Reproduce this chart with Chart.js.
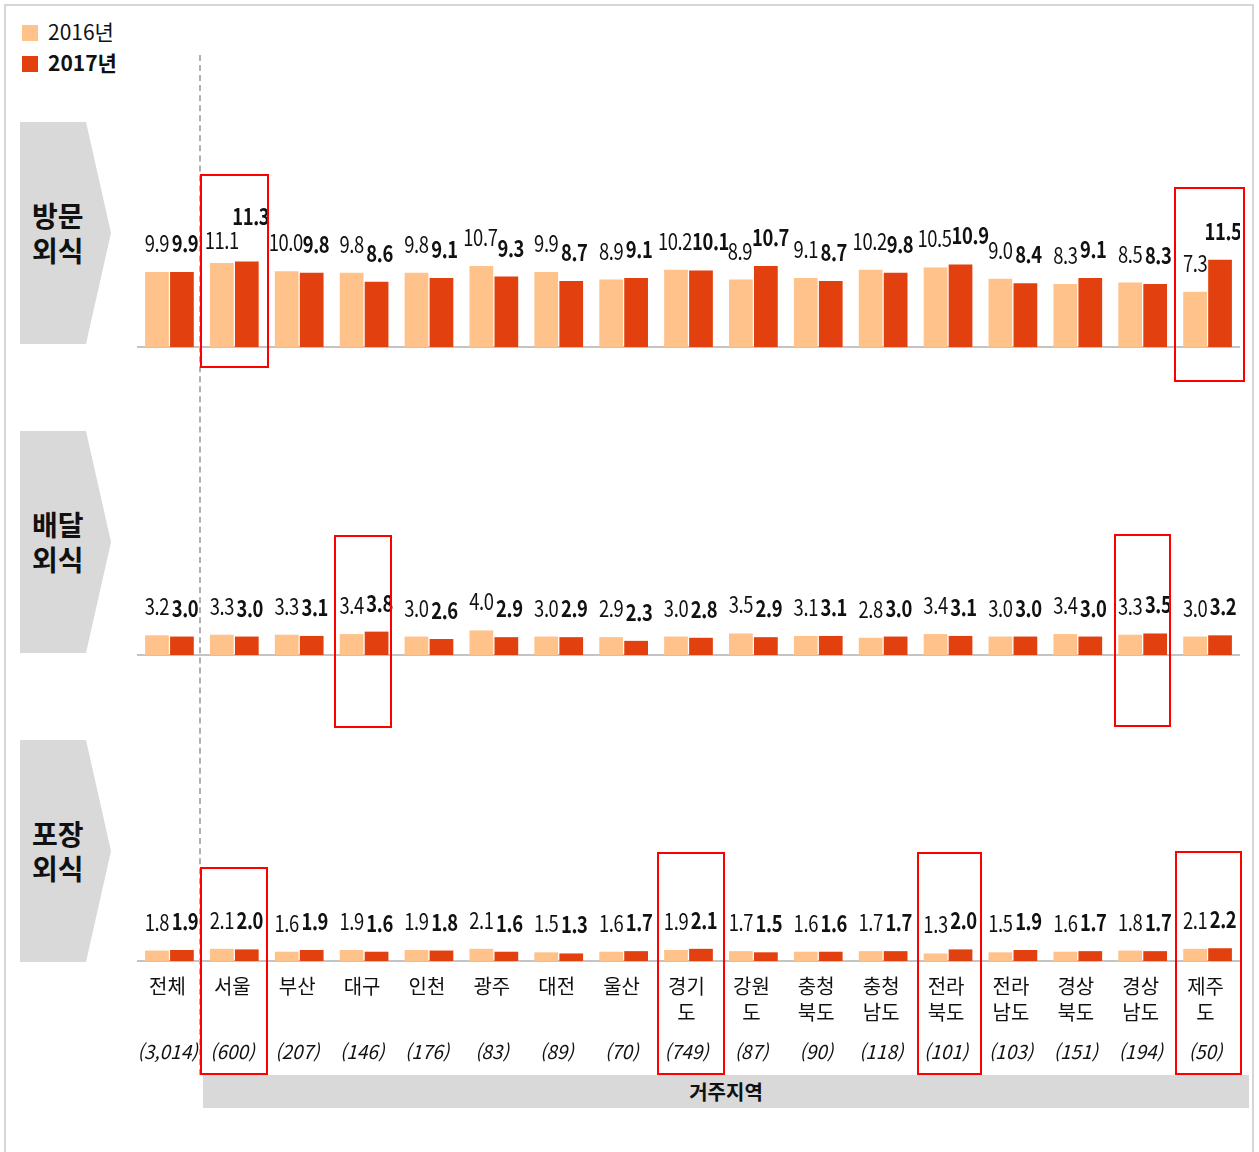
<!DOCTYPE html>
<html lang="ko">
<head>
<meta charset="utf-8">
<title>외식 빈도</title>
<script src="https://cdn.jsdelivr.net/npm/chart.js@4.4.1/dist/chart.umd.min.js"></script>
<style>
  html, body { margin: 0; padding: 0; background: #fff; }
  body {
    width: 1259px; height: 1152px; position: relative; overflow: hidden;
    font-family: "Noto Sans CJK KR", "Noto Sans", sans-serif; color: #111;
  }
  .frame { position: absolute; left: 4px; top: 4px; width: 1250px; height: 1170px; border: 2px solid #d6d6d6; box-sizing: border-box; }
  .legend { position: absolute; left: 22px; font-size: 21px; line-height: 21px; }
  .legend i { display: inline-block; width: 16px; height: 16px; vertical-align: -1px; margin-right: 10px; }
  .chev {
    position: absolute; left: 20px; width: 91px; height: 222px; background: #d9d9d9;
    clip-path: polygon(0 0, 66px 0, 91px 50%, 66px 100%, 0 100%);
  }
  .chev span {
    position: absolute; left: 12px; top: 50%; transform: translateY(-50%);
    font-weight: bold; font-size: 28px; line-height: 35px;
  }
  .dash { position: absolute; left: 199px; top: 55px; height: 1020px; border-left: 2px dashed #b0b0b0; }
  .box { position: absolute; border: 2px solid #ff0000; box-sizing: border-box; z-index: 5; }
  .region {
    position: absolute; left: 203px; top: 1075px; width: 1046px; height: 33px; background: #d9d9d9;
    text-align: center; font-weight: bold; font-size: 20px; line-height: 33px;
  }
  canvas { position: absolute; left: 137px; }
</style>
</head>
<body>
<div class="frame"></div>

<div class="legend" style="top:21px;"><i style="background:#ffc28b"></i>2016년</div>
<div class="legend" style="top:52px; font-weight:bold;"><i style="background:#e2410f"></i>2017년</div>

<div class="dash"></div>

<div class="chev" style="top:122px;"><span>방문<br>외식</span></div>
<div class="chev" style="top:431px;"><span>배달<br>외식</span></div>
<div class="chev" style="top:740px;"><span>포장<br>외식</span></div>

<div class="region">거주지역</div>

<canvas id="visit" width="1103" height="200" style="top:150px;"></canvas>
<canvas id="delivery" width="1103" height="126" style="top:532px;"></canvas>
<canvas id="takeout" width="1103" height="230" style="top:845px;"></canvas>

<!-- highlight boxes -->
<div class="box" style="left:200px; top:174px; width:69px; height:194px;"></div>
<div class="box" style="left:1174px; top:187px; width:71px; height:195px;"></div>
<div class="box" style="left:334px; top:535px; width:58px; height:193px;"></div>
<div class="box" style="left:1114px; top:534px; width:57px; height:193px;"></div>
<div class="box" style="left:200px; top:867px; width:68px; height:208px;"></div>
<div class="box" style="left:657px; top:852px; width:68px; height:223px;"></div>
<div class="box" style="left:917px; top:852px; width:65px; height:223px;"></div>
<div class="box" style="left:1175px; top:851px; width:67px; height:224px;"></div>

<script>
// regions (거주지역) and sample sizes
const regions = ['전체', '서울', '부산', '대구', '인천', '광주', '대전', '울산', '경기도',
  '강원도', '충청북도', '충청남도', '전라북도', '전라남도', '경상북도', '경상남도', '제주도'];
const sampleSizes = ['(3,014)', '(600)', '(207)', '(146)', '(176)', '(83)', '(89)', '(70)', '(749)',
  '(87)', '(90)', '(118)', '(101)', '(103)', '(151)', '(194)', '(50)'];

// 방문외식
const visit2016 = [9.9, 11.1, 10.0, 9.8, 9.8, 10.7, 9.9, 8.9, 10.2, 8.9, 9.1, 10.2, 10.5, 9.0, 8.3, 8.5, 7.3];
const visit2017 = [9.9, 11.3, 9.8, 8.6, 9.1, 9.3, 8.7, 9.1, 10.1, 10.7, 8.7, 9.8, 10.9, 8.4, 9.1, 8.3, 11.5];

// 배달외식
const delivery2016 = [3.2, 3.3, 3.3, 3.4, 3.0, 4.0, 3.0, 2.9, 3.0, 3.5, 3.1, 2.8, 3.4, 3.0, 3.4, 3.3, 3.0];
const delivery2017 = [3.0, 3.0, 3.1, 3.8, 2.6, 2.9, 2.9, 2.3, 2.8, 2.9, 3.1, 3.0, 3.1, 3.0, 3.0, 3.5, 3.2];

// 포장외식
const takeout2016 = [1.8, 2.1, 1.6, 1.9, 1.9, 2.1, 1.5, 1.6, 1.9, 1.7, 1.6, 1.7, 1.3, 1.5, 1.6, 1.8, 2.1];
const takeout2017 = [1.9, 2.0, 1.9, 1.6, 1.8, 1.6, 1.3, 1.7, 2.1, 1.5, 1.6, 1.7, 2.0, 1.9, 1.7, 1.7, 2.2];

const COLOR_2016 = '#ffc28b';
const COLOR_2017 = '#e2410f';
const FONT = '"Noto Sans CJK KR", "Noto Sans", sans-serif';
const LABEL_SCALE = 0.8;

// long names wrap after two syllables (경기 / 도)
const regionLines = regions.map(r => r.length > 2 ? [r.slice(0, 2), r.slice(2)] : [r]);

Chart.defaults.font.family = FONT;
Chart.defaults.color = '#111';

function labelFont(ctx, bold) {
  ctx.font = (bold ? 'bold ' : '') + '23px ' + FONT;
  ctx.letterSpacing = '-0.5px';
}

// value labels above each bar, 2017 in bold; drawn condensed like the original font.
// colliding pairs: the 2017 label is nudged right, or lifted when its bar is barely taller
const valueLabels = {
  id: 'valueLabels',
  afterDatasetsDraw(chart) {
    const ctx = chart.ctx;
    const bars0 = chart.getDatasetMeta(0).data;
    const bars1 = chart.getDatasetMeta(1).data;
    const ds0 = chart.data.datasets[0].data;
    const ds1 = chart.data.datasets[1].data;
    bars0.forEach((b0, j) => {
      const b1 = bars1[j];
      const t0 = ds0[j].toFixed(1);
      const t1 = ds1[j].toFixed(1);
      ctx.save();
      labelFont(ctx, false);
      const w0 = ctx.measureText(t0).width * LABEL_SCALE;
      labelFont(ctx, true);
      const w1 = ctx.measureText(t1).width * LABEL_SCALE;
      ctx.restore();
      let x0 = b0.x;
      let x1 = b1.x + 3;
      let y0 = b0.y - 20;
      let y1 = b1.y - 20;
      const overlap = (x0 + w0 / 2) - (x1 - w1 / 2);
      if (overlap > 0 && Math.abs(y0 - y1) < 17) {
        const dy = b0.y - b1.y;
        if (dy > 0 && dy < 2.5) {
          y0 += 6;
          y1 = y0 - 24;
          x1 += 1;
        } else {
          x0 -= 1;
          x1 += overlap - 1;
        }
      }
      [[t0, x0, y0, false], [t1, x1, y1, true]].forEach(([t, x, y, bold]) => {
        ctx.save();
        ctx.translate(x, y);
        ctx.scale(LABEL_SCALE, 1);
        labelFont(ctx, bold);
        ctx.fillStyle = '#111';
        ctx.textAlign = 'center';
        ctx.textBaseline = 'alphabetic';
        ctx.fillText(t, 0, 0);
        ctx.restore();
      });
    });
  }
};

// region names and (n) under the last panel, placed with the x scale
const regionLabels = {
  id: 'regionLabels',
  afterDraw(chart) {
    if (!chart.options.plugins.regionLabels.show) return;
    const ctx = chart.ctx;
    const x = chart.scales.x;
    const base = chart.chartArea.bottom;
    ctx.save();
    ctx.fillStyle = '#111';
    ctx.textAlign = 'center';
    ctx.textBaseline = 'middle';
    regionLines.forEach((lines, j) => {
      const px = x.getPixelForValue(j) - 2;
      ctx.font = '20px ' + FONT;
      lines.forEach((t, k) => ctx.fillText(t, px, base + 25 + k * 26));
      ctx.font = 'italic 19px ' + FONT;
      ctx.fillText(sampleSizes[j], px, base + 91);
    });
    ctx.restore();
  }
};

function makeChart(id, d2016, d2017, yMax, bottomPad, showRegions) {
  return new Chart(document.getElementById(id), {
    type: 'bar',
    data: {
      labels: regions,
      datasets: [
        { label: '2016년', data: d2016, backgroundColor: COLOR_2016, categoryPercentage: 0.77, barPercentage: 0.95 },
        { label: '2017년', data: d2017, backgroundColor: COLOR_2017, categoryPercentage: 0.77, barPercentage: 0.95 }
      ]
    },
    options: {
      responsive: false,
      animation: false,
      layout: { padding: { left: 0, right: 0, top: 0, bottom: bottomPad } },
      plugins: {
        legend: { display: false },
        tooltip: { enabled: false },
        regionLabels: { show: showRegions }
      },
      scales: {
        x: {
          grid: { display: false, drawTicks: false },
          border: { color: '#c4c4c4', width: 2 },
          ticks: { display: false }
        },
        y: { display: false, min: 0, max: yMax }
      }
    },
    plugins: [valueLabels, regionLabels]
  });
}

makeChart('visit', visit2016, visit2017, 26, 3, false);
makeChart('delivery', delivery2016, delivery2017, 20, 3, false);
makeChart('takeout', takeout2016, takeout2017, 20, 114, true);
</script>
</body>
</html>
